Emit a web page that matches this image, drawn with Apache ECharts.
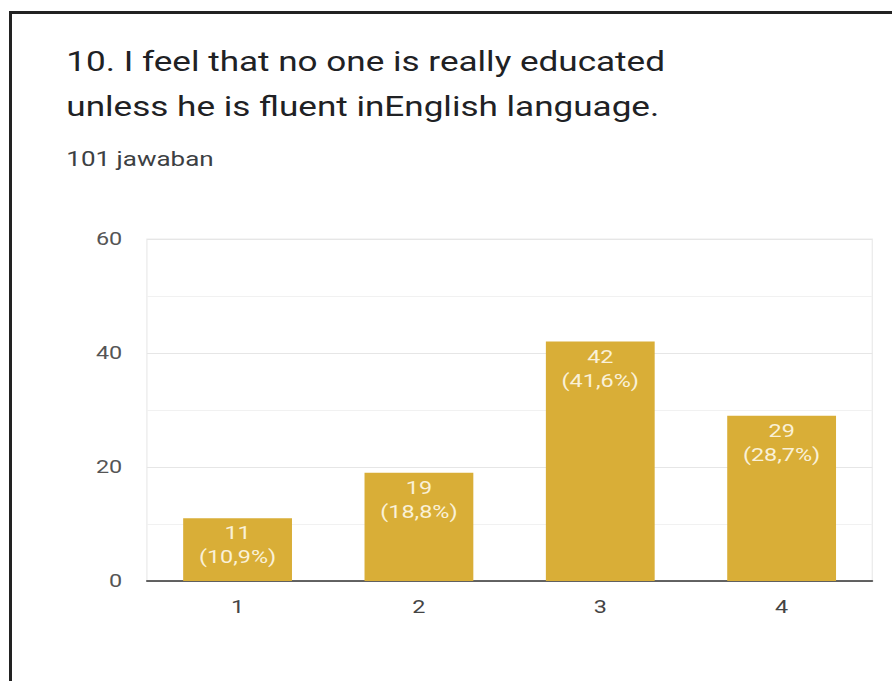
<!DOCTYPE html>
<html>
<head>
<meta charset="utf-8">
<script src="https://cdn.jsdelivr.net/npm/echarts@6/dist/echarts.min.js"></script>
<style>
  html, body { margin: 0; padding: 0; background: #fff; overflow: hidden; }
  #frame { position: absolute; left: 9px; top: 11px; width: 900px; height: 700px;
           border-top: 3px solid #222; border-left: 3px solid #222; box-sizing: border-box; }
  /* the chart is laid out narrower and widened horizontally to the full page width */
  #chart { position: absolute; left: 0; top: 0; width: 686px; height: 681px;
           transform: scaleX(1.3); transform-origin: 0 0; }
</style>
</head>
<body>
<div id="frame"></div>
<div id="chart"></div>
<script>
// Survey answers on a 1–4 scale
const categories = ['1', '2', '3', '4'];
const counts = [11, 19, 42, 29];
const percentLabels = ['10,9', '18,8', '41,6', '28,7'];
const yTicks = [0, 20, 40, 60];

const chart = echarts.init(document.getElementById('chart'), null, { renderer: 'svg' });

chart.setOption({
  animation: false,
  backgroundColor: 'transparent',
  title: {
    text: '10. I feel that no one is really educated\nunless he is fluent inEnglish language.',
    subtext: '101 jawaban',
    left: 46,
    top: 34,
    itemGap: 20,
    textStyle: { fontFamily: 'Roboto', fontSize: 27, fontWeight: 'normal', color: '#202124', lineHeight: 45 },
    subtextStyle: { fontFamily: 'Roboto', fontSize: 20, color: '#3c4043' }
  },
  grid: { left: 113, right: 15, top: 239, bottom: 100, show: true, borderColor: '#ececec', borderWidth: 1 },
  xAxis: {
    type: 'category',
    data: categories,
    axisLine: { lineStyle: { color: '#333', width: 1.5 } },
    axisTick: { show: false },
    axisLabel: { fontFamily: 'Roboto', fontSize: 18, color: '#444', margin: 17 }
  },
  yAxis: {
    type: 'value',
    min: yTicks[0],
    max: yTicks[yTicks.length - 1],
    interval: 20,
    axisLine: { show: false },
    axisTick: { show: false },
    axisLabel: { fontFamily: 'Roboto', fontSize: 18, color: '#555', margin: 19 },
    splitLine: { lineStyle: { color: '#e6e6e6' } },
    minorTick: { show: false, splitNumber: 2 },
    minorSplitLine: { show: true, lineStyle: { color: '#f1f1f1' } }
  },
  series: [{
    type: 'bar',
    data: counts,
    barWidth: '60%',
    itemStyle: { color: '#d9ae37' },
    label: {
      show: true,
      position: 'insideTop',
      distance: 3,
      fontFamily: 'Roboto',
      fontSize: 18,
      lineHeight: 24,
      color: '#faf1d8',
      formatter: p => p.value + '\n(' + percentLabels[p.dataIndex] + '%)'
    }
  }]
});
</script>
</body>
</html>
